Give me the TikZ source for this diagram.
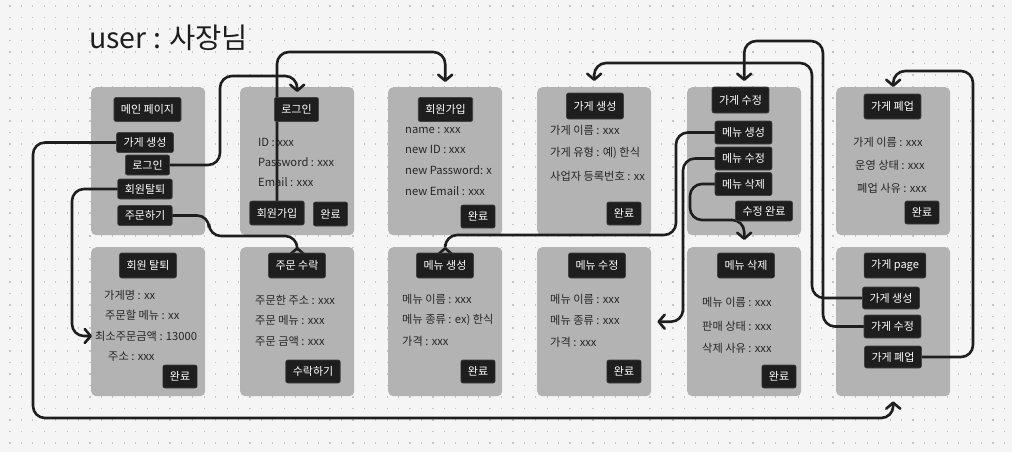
\documentclass[tikz,border=0pt]{standalone}
\usepackage{fontspec}
\setmainfont{Noto Sans CJK KR}
\usepackage{tikz}
\usetikzlibrary{arrows.meta}
\pgfdeclarelayer{panels}
\pgfdeclarelayer{links}
\pgfsetlayers{panels,links,main}
\definecolor{ink}{HTML}{1E1E1E}
\definecolor{paper}{HTML}{F5F5F5}
\definecolor{card}{HTML}{B3B3B3}
\definecolor{dotc}{HTML}{C6C6C6}
\definecolor{txt}{HTML}{262626}

\begin{document}
\begin{tikzpicture}[x=1pt, y=-1pt,
    panel/.style={fill=card, rounded corners=5pt, minimum width=114pt, anchor=north west, inner sep=0pt},
    btn/.style={fill=ink, draw=ink!85!white, line width=0.6pt, rounded corners=2pt, text=white,
        font=\fontsize{11}{12}\selectfont, inner xsep=7pt, inner ysep=0pt, minimum height=20pt},
    head/.style={btn, minimum height=24pt},
    field/.style={anchor=west, text=txt, font=\fontsize{11.2}{12}\selectfont, inner sep=1pt},
    link/.style={draw=ink, line width=2.6pt, rounded corners=12pt, line cap=round,
        -{Straight Barb[length=6pt,width=14pt,round]}}]

    \useasboundingbox (0,0) rectangle (1012,452);

    % Background, grid and cards
    \begin{pgfonlayer}{panels}
        \fill[paper] (0,0) rectangle (1012,452);
        \foreach \i in {0,...,87}
            \foreach \j in {0,...,38}
                \fill[dotc] ({9.4+\i*11.43},{5.4+\j*11.5}) rectangle ++(1.2,1.2);
        \node[panel, minimum height=148pt] at (91,87) (pMain) {};
        \node[panel, minimum height=148pt] at (240,87) (pLogin) {};
        \node[panel, minimum height=148pt] at (388,87) (pSignup) {};
        \node[panel, minimum height=148pt] at (537,87) (pStoreNew) {};
        \node[panel, minimum height=148pt] at (687,87) (pStoreEdit) {};
        \node[panel, minimum height=148pt] at (836,87) (pStoreClose) {};
        \node[panel, minimum height=149pt] at (91,247) (pLeave) {};
        \node[panel, minimum height=149pt] at (240,247) (pOrder) {};
        \node[panel, minimum height=149pt] at (388,247) (pMenuNew) {};
        \node[panel, minimum height=149pt] at (537,247) (pMenuEdit) {};
        \node[panel, minimum height=149pt] at (687,247) (pMenuDel) {};
        \node[panel, minimum height=149pt] at (836,247) (pStore) {};
    \end{pgfonlayer}

    % Title
    \node[anchor=west, text=ink, inner sep=0pt, font=\fontsize{28.5}{30}\selectfont] at (89,38) (title) {user : 사장님};

    % Main page
    \node[head] at (147.5,109.5) (mHead) {메인 페이지};
    \node[btn] at (145,142.5) (mStore) {가게 생성};
    \node[btn] at (147.5,165) (mLogin) {로그인};
    \node[btn] at (145,189) (mLeave) {회원탈퇴};
    \node[btn] at (145,215.5) (mOrder) {주문하기};

    % Login
    \node[head] at (296.5,109.5) (lHead) {로그인};
    \node[field] at (257,142) (login_id) {ID : xxx};
    \node[field] at (257,162) (login_pw) {Password : xxx};
    \node[field] at (257,182) (login_mail) {Email : xxx};
    \node[btn, minimum height=24pt] at (277,213) (lSignup) {회원가입};
    \node[btn, minimum height=24pt] at (330.5,214) (lDone) {완료};

    % Sign up
    \node[head] at (445.5,109.5) (sHead) {회원가입};
    \node[field] at (404,130) (su_name) {name : xxx};
    \node[field] at (404,149) (su_id) {new ID : xxx};
    \node[field] at (404,170) (su_pw) {new Password: x};
    \node[field] at (404,191) (su_mail) {new Email : xxx};
    \node[btn, minimum height=23pt] at (478,216.5) (sDone) {완료};

    % Store creation
    \node[head, minimum height=26pt] at (595,106) (nHead) {가게 생성};
    \node[field] at (549,130) (sn_name) {가게 이름 : xxx};
    \node[field] at (549,153) (sn_type) {가게 유형 : 예) 한식};
    \node[field] at (549,176) (sn_reg) {사업자 등록번호 : xx};
    \node[btn, minimum height=23pt] at (624,213.5) (nDone) {완료};

    % Store edit
    \node[head, minimum height=26pt] at (740.5,100) (eHead) {가게 수정};
    \node[btn, minimum height=23pt] at (743.5,132.5) (eMenuNew) {메뉴 생성};
    \node[btn, minimum height=23pt] at (743.5,158.5) (eMenuEdit) {메뉴 수정};
    \node[btn, minimum height=23pt] at (743.5,184) (eMenuDel) {메뉴 삭제};
    \node[btn] at (764,211) (eDone) {수정 완료};

    % Store closing
    \node[head, minimum height=25pt] at (892.5,106.5) (cHead) {가게 폐업};
    \node[field] at (852,142) (sc_name) {가게 이름 : xxx};
    \node[field] at (854,165) (sc_state) {운영 상태 : xxx};
    \node[field] at (856,188) (sc_why) {폐업 사유 : xxx};
    \node[btn, minimum height=23pt] at (922,212.5) (cDone) {완료};

    % Leave
    \node[head, minimum height=25pt] at (148,265.5) (wHead) {회원 탈퇴};
    \node[field] at (103,295) (lv_store) {가게명 : xx};
    \node[field] at (104,315) (lv_menu) {주문할 메뉴 : xx};
    \node[field] at (94,336) (lv_min) {최소주문금액 : 13000};
    \node[field] at (107,357) (lv_addr) {주소 : xxx};
    \node[btn, minimum height=23pt] at (180,376.5) (wDone) {완료};

    % Order
    \node[head, minimum height=25pt] at (297,265.5) (oHead) {주문 수락};
    \node[field] at (254,300) (od_addr) {주문한 주소 : xxx};
    \node[field] at (254,320) (od_menu) {주문 메뉴 : xxx};
    \node[field] at (254,341) (od_sum) {주문 금액 : xxx};
    \node[btn, minimum height=23pt] at (313,371.5) (oAccept) {수락하기};

    % Menu creation
    \node[head, minimum height=25pt] at (445,265.5) (mnHead) {메뉴 생성};
    \node[field] at (401,299) (mn_name) {메뉴 이름 : xxx};
    \node[field] at (401,320) (mn_kind) {메뉴 종류 : ex) 한식};
    \node[field] at (401,341) (mn_price) {가격 : xxx};
    \node[btn, minimum height=23pt] at (478,371.5) (mnDone) {완료};

    % Menu edit
    \node[head, minimum height=25pt] at (597,265.5) (meHead) {메뉴 수정};
    \node[field] at (549,299) (me_name) {메뉴 이름 : xxx};
    \node[field] at (549,320) (me_kind) {메뉴 종류 : xxx};
    \node[field] at (549,342) (me_price) {가격 : xxx};
    \node[btn, minimum height=23pt] at (624,371.5) (meDone) {완료};

    % Menu delete
    \node[head, minimum height=25pt] at (746,265.5) (mdHead) {메뉴 삭제};
    \node[field] at (701,302) (md_name) {메뉴 이름 : xxx};
    \node[field] at (701,326) (md_state) {판매 상태 : xxx};
    \node[field] at (701,348) (md_why) {삭제 사유 : xxx};
    \node[btn, minimum height=23pt] at (779,376.5) (mdDone) {완료};

    % Store page
    \node[head, minimum height=25pt] at (895,265.5) (gHead) {가게 page};
    \node[btn, minimum height=22pt] at (891,298) (gNew) {가게 생성};
    \node[btn, minimum height=23pt] at (892.5,326.5) (gEdit) {가게 수정};
    \node[btn, minimum height=22pt] at (893,357) (gClose) {가게 폐업};

    % Arrows
    \begin{pgfonlayer}{links}
        \draw[link] (mLogin.east) -| (220,76) -| ([yshift=-5pt]pLogin.north);
        \draw[link] (lSignup.north) |- (360,52) -| ([yshift=5pt]pSignup.north);
        \draw[link] (mStore.west) -| (33,418) -| ([yshift=-5pt]pStore.south);
        \draw[link] (mLeave.west) -| (72,336) -- ([xshift=-2pt]lv_min.west);
        \draw[link] (mOrder.east) -| (209,236) -| (pOrder.north);
        \draw[link] (eMenuNew.west) -| (676,235) -| (pMenuNew.north);
        \draw[link] (eMenuEdit.west) -| (683,300) |- ([xshift=6pt]pMenuEdit.east);
        \draw[link] (eMenuDel.west) -| (690,220) -| ([yshift=7pt]pMenuDel.north);
        \draw[link] (gNew.west) -| (812,63) -| ([yshift=6pt]pStoreNew.north);
        \draw[link] (gEdit.west) -| (823,41) -| ([yshift=6pt]pStoreEdit.north);
        \draw[link] (gClose.east) -| (973,71) -| (pStoreClose.north);
    \end{pgfonlayer}

\end{tikzpicture}
\end{document}
